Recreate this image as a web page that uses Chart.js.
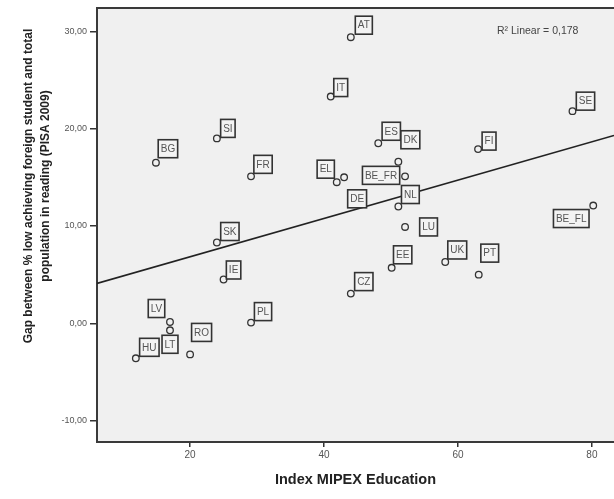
<!DOCTYPE html>
<html><head><meta charset="utf-8">
<script src="https://cdn.jsdelivr.net/npm/chart.js@4/dist/chart.umd.min.js"></script>
<style>html,body{margin:0;padding:0;background:#fff}canvas{display:block}</style>
</head><body>
<canvas id="c" width="614" height="499"></canvas>
<script>
// ---- data ----
const countries = ['AT','IT','SI','BG','FR','EL','DE','SE','ES','DK','FI','BE_FR','NL','LU','EE','UK','PT','CZ','BE_FL','SK','IE','PL','LV','LT','HU','RO'];
const mipexEducation = [44.0,41.0,24.0,14.9,29.1,41.9,43.0,77.1,48.1,51.1,63.0,52.1,51.1,52.1,50.1,58.1,63.1,44.0,80.2,24.0,25.0,29.1,17.0,17.0,11.9,20.0];
const readingGap = [29.4,23.3,19.0,16.5,15.1,14.5,15.0,21.8,18.5,16.6,17.9,15.1,12.0,9.9,5.7,6.3,5.0,3.05,12.1,8.3,4.5,0.07,0.13,-0.72,-3.6,-3.2];
const fitLineX = [6.1, 83.3];
const fitLineY = [4.1, 19.3];
const xTicks = [20,40,60,80];
const yTicks = [-10,0,10,20,30];
const yTickLabels = ['-10,00','0,00','10,00','20,00','30,00'];
const xTitle = 'Index MIPEX Education';
const yTitle = ['Gap between % low achieving foreign student and total','population in reading (PISA 2009)'];
const r2Text = 'R\u00B2 Linear = 0,178';

// ---- layout / style (label box offsets in px, relative to the point) ----
const labelOffsets = {
  AT:[13,-12], IT:[10,-9], SI:[11,-10], BG:[12,-14], FR:[12,-12], EL:[-11,-13], DE:[13,21.5],
  SE:[13,-10], ES:[13,-12], DK:[12,-22], FI:[11,-8], BE_FR:[-24,-1], NL:[12,-12], LU:[23.5,0],
  EE:[11,-13], UK:[12,-12], PT:[11,-21.5], CZ:[13,-12], BE_FL:[-22,13], SK:[13,-11], IE:[10,-9.5],
  PL:[12,-11], LV:[-13.5,-13.5], LT:[0,14], HU:[13.5,-11], RO:[11.5,-22]
};

const points = mipexEducation.map((x,i)=>({x, y: readingGap[i]}));
const fitLine = fitLineX.map((x,i)=>({x, y: fitLineY[i]}));

const framePlugin = {
  id:'frame',
  beforeDatasetsDraw(chart){
    const {ctx, chartArea:a} = chart;
    ctx.save();
    ctx.fillStyle = '#f0f0f0';
    ctx.fillRect(a.left, a.top, a.right-a.left, a.bottom-a.top);
    ctx.strokeStyle = '#3a3a3a';
    ctx.lineWidth = 2;
    ctx.beginPath();
    ctx.moveTo(a.right+2, a.top); ctx.lineTo(a.left, a.top); ctx.lineTo(a.left, a.bottom); ctx.lineTo(a.right+2, a.bottom);
    ctx.stroke();
    ctx.restore();
  }
};

const labelPlugin = {
  id:'labels',
  afterDatasetsDraw(chart){
    const {ctx} = chart;
    const meta = chart.getDatasetMeta(0);
    ctx.save();
    ctx.font = '10px "Liberation Sans", Arial, sans-serif';
    ctx.textAlign = 'center';
    ctx.textBaseline = 'middle';
    meta.data.forEach((el,i)=>{
      const name = countries[i];
      const off = labelOffsets[name] || [12,-12];
      const cx = el.x + off[0], cy = el.y + off[1];
      const w = ctx.measureText(name).width + 5, h = 18;
      ctx.fillStyle = '#f3f3f3';
      ctx.fillRect(cx-w/2, cy-h/2, w, h);
      ctx.strokeStyle = '#333';
      ctx.lineWidth = 1.6;
      ctx.strokeRect(cx-w/2, cy-h/2, w, h);
      ctx.fillStyle = '#555';
      ctx.fillText(name, cx, cy+0.5);
    });
    // R² annotation
    const a = chart.chartArea;
    ctx.font = '10.5px "Liberation Sans", Arial, sans-serif';
    ctx.textAlign = 'left';
    ctx.fillStyle = '#444';
    ctx.fillText(r2Text, a.left + 400, a.top + 23);
    // Y axis title (two lines, rotated)
    ctx.font = 'bold 12px "Liberation Sans", Arial, sans-serif';
    ctx.fillStyle = '#222';
    ctx.textAlign = 'center';
    ctx.save();
    ctx.translate(29, 186);
    ctx.rotate(-Math.PI/2);
    ctx.fillText(yTitle[0], 0, 0);
    ctx.fillText(yTitle[1], 0, 17);
    ctx.restore();
    ctx.restore();
  }
};

new Chart(document.getElementById('c'), {
  type:'scatter',
  data:{
    datasets:[
      { label:'Countries', data: points, pointRadius:3.3, pointHoverRadius:3.3,
        pointBackgroundColor:'rgba(0,0,0,0)', pointBorderColor:'#333', pointBorderWidth:1.3, order:1 },
      { type:'line', label:'Linear fit', data: fitLine, borderColor:'#222', borderWidth:1.6,
        pointRadius:0, fill:false, order:2 }
    ]
  },
  options:{
    responsive:false, animation:false, devicePixelRatio:1,
    layout:{ autoPadding:false, padding:{ top:8, right:0, left:0, bottom:0 } },
    plugins:{ legend:{display:false}, tooltip:{enabled:false} },
    scales:{
      x:{ type:'linear', min:fitLineX[0], max:fitLineX[1],
        afterBuildTicks(s){ s.ticks = xTicks.map(v=>({value:v})); },
        afterFit(s){ s.height = 57; s.paddingRight = 0; s.paddingLeft = 0; },
        ticks:{ font:{size:10, family:'"Liberation Sans", Arial, sans-serif'}, color:'#555', padding:2, maxRotation:0,
          callback:v=>String(v) },
        grid:{ drawOnChartArea:false, drawTicks:true, tickLength:5, color:'#333', lineWidth:1.5 },
        border:{ display:false },
        title:{ display:true, text:xTitle, color:'#222',
          font:{ size:14.5, weight:'bold', family:'"Liberation Sans", Arial, sans-serif' }, padding:{top:0,bottom:10} }
      },
      y:{ type:'linear', min:-12.2, max:32.4,
        afterBuildTicks(s){ s.ticks = yTicks.map(v=>({value:v})); },
        afterFit(s){ s.width = 97; s.paddingTop = 0; s.paddingBottom = 0; },
        ticks:{ font:{size:9, family:'"Liberation Sans", Arial, sans-serif'}, color:'#555', padding:3,
          callback:v=>yTickLabels[yTicks.indexOf(v)] },
        grid:{ drawOnChartArea:false, drawTicks:true, tickLength:7, color:'#333', lineWidth:1.5 },
        border:{ display:false }
      }
    }
  },
  plugins:[framePlugin, labelPlugin]
});
</script>
</body></html>
